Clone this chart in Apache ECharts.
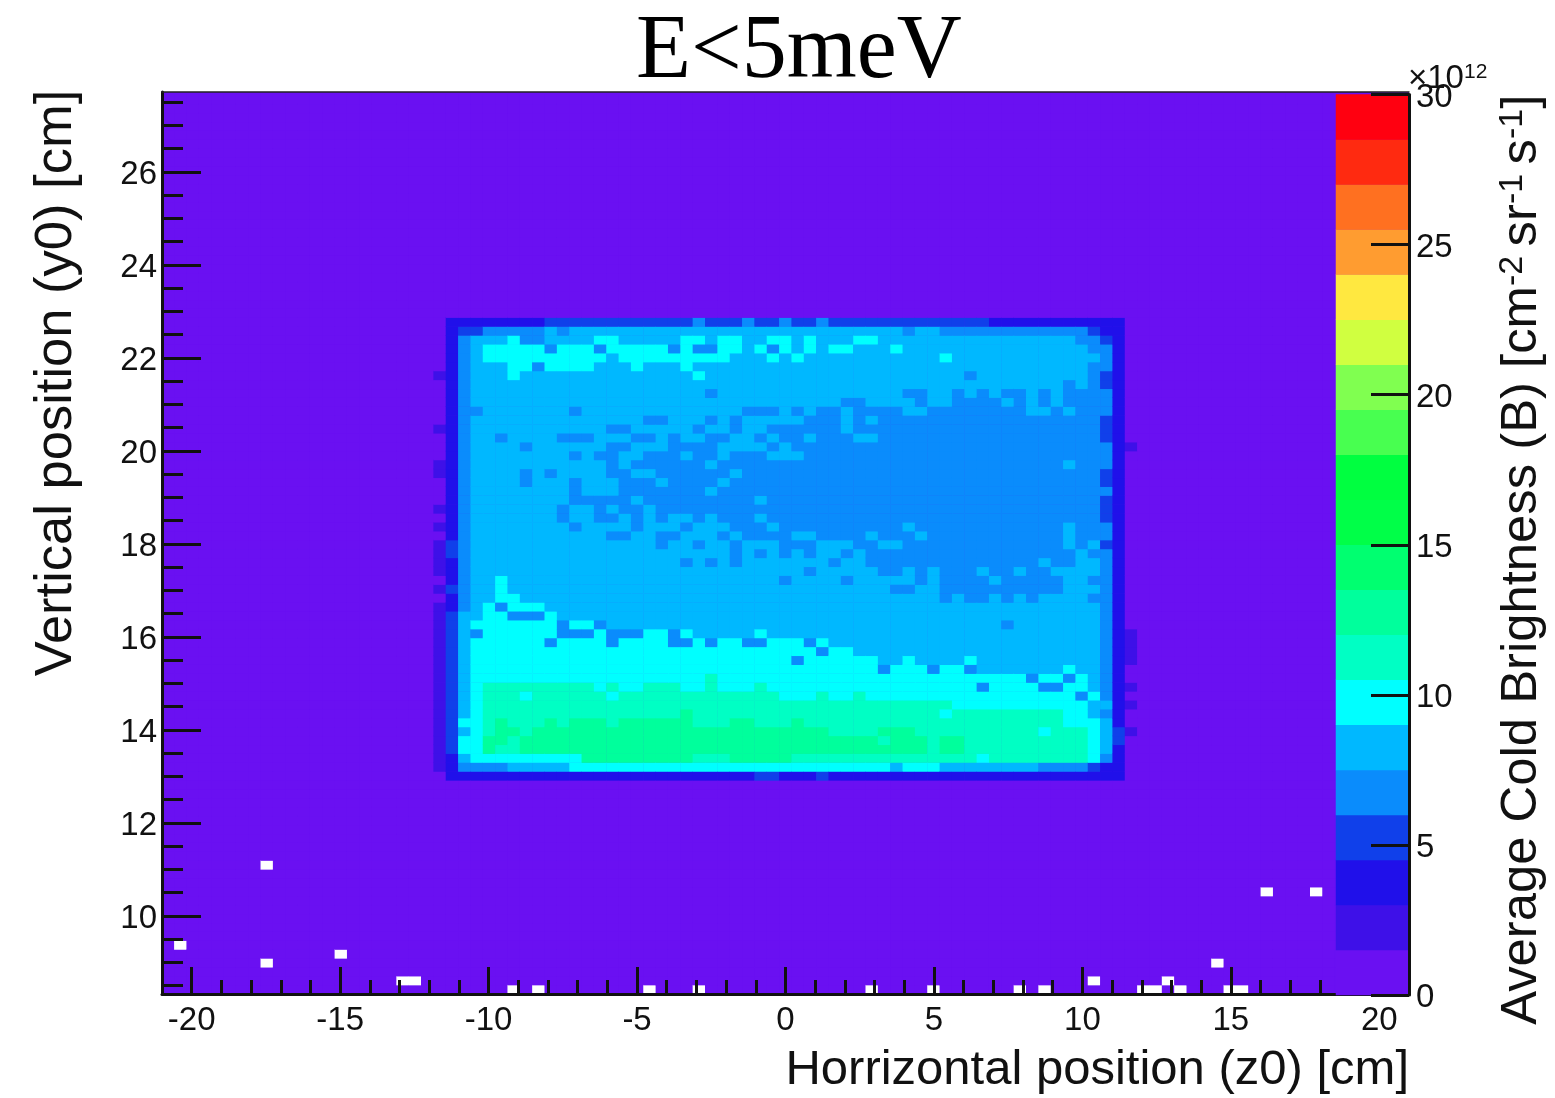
<!DOCTYPE html>
<html><head><meta charset="utf-8">
<style>html,body{margin:0;padding:0;background:#fff}#c{width:1555px;height:1098px}</style>
<script src="https://cdn.jsdelivr.net/npm/echarts@6/dist/echarts.min.js"></script>
</head><body><div id="c"></div>
<script>
// contour band index (0..19) of each bin in the lit area, top row first; spaces only group columns in tens
const litRows = [
"0222222223 3333333333 3433343343 3433333333 3333322222 2222220",
"0233444445 4555555555 5555555555 5555555545 5444444444 4443220",
"0245556445 5556655555 6656655665 6555665555 5555555555 5544320",
"0245666664 6664666664 6446656465 6566555655 5555555555 5554420",
"0245666666 6666566666 6666555656 5555555555 5655555555 5555420",
"0245556646 6665556555 6555555555 5555555555 5555555555 5554420",
"1245556555 5555555555 5655555555 5555555555 5554555555 5554320",
"0245555555 5555555555 5555555555 5555555555 5555555555 5454320",
"0245555555 5555555555 5545555555 5555555544 5545454454 5444420",
"0245555555 5555555555 5555555555 5554455554 5544445454 5444420",
"0244555555 5455555555 5555544454 5445444455 4444444455 4544420",
"0245555555 5555555445 5545455555 4445454444 4444444444 4444320",
"1245555555 5555445555 5455455444 4445444444 4444444444 4444320",
"0245545555 4445554454 5544554544 5444554444 4444444444 4444320",
"0245555455 5555445554 4445555454 4444444444 4444444444 4444421",
"0245555555 5454455444 5445444555 4444444444 4444444444 4444420",
"1245555555 5555454444 4454444444 4444444444 4444444444 4544420",
"1245555454 5555445544 4444544444 4444444444 4444444444 4444320",
"0245555455 5455544454 4445444444 4444444444 4444444444 4444320",
"0245555555 5455544444 4454444444 4444444444 4444444444 4444420",
"0245555555 5444445444 4444445444 4444444444 4444444444 4444320",
"1245555555 4554544544 4444444444 4444444444 4444444444 4444320",
"0245555555 4554454545 5454445444 4444444444 4444444444 4444320",
"1245555555 5455554555 4555444544 4444444454 4444444444 4544420",
"0245555555 5555445544 5554544445 5444454445 4444444444 4544420",
"1345555555 5555555545 5455455544 4555445544 4444444444 4545320",
"1345555555 5555555555 5555454545 4554544444 4444444444 4454420",
"1245555555 5555555555 4545455555 5545544444 4444444445 4455420",
"1245555555 5555555555 5555555555 4555554454 5444544544 5555420",
"0245565555 5555555555 5555555545 5554555554 5444454444 4554420",
"1345565555 5555555555 5555555555 5555555445 5444444444 4555420",
"0245566555 5555555555 5555555555 5555555555 5454454545 5554420",
"1245646665 5555555555 5555555555 5555555555 5555555555 5555420",
"1355664446 5555555555 5555555555 5555555555 5555555555 5555420",
"1356666666 4664555555 5555555555 5555555555 5555554555 5555420",
"1354666666 4446444664 6555556555 5555555555 5555555555 5555421",
"1356666664 6666466664 4646644666 4655555555 5555555555 5555421",
"1356666666 6666666666 6666666666 6466555555 5555555555 5555421",
"1356666666 6666666666 6666666664 6666665565 5556555555 5555421",
"1356666666 6666666666 6666666666 6666664666 4664555555 5655420",
"1356666666 6666666666 6676666666 6666666666 6666666646 6465420",
"1356777777 7776766777 6676667666 6666666666 6666466664 4665421",
"1356777677 7777677777 7777777766 6766766666 6666666666 6646420",
"1356777777 7777777777 7777777777 7777777777 7766666666 6665521",
"1356777777 7777777777 8777777777 7777777777 7677777777 7665420",
"1366787778 7888788888 8777887778 7777777777 7777777777 7666520",
"1356788788 8888888888 8888888888 8877778887 7777777776 7776531",
"1366887888 8888888888 8888888888 8888887888 7887777777 7776530",
"1366877888 8888888888 8888888888 8888888888 7887777777 7776520",
"1256666666 6688888888 8777888887 7777777777 7777677777 7776420",
"1244445555 5666666666 6666666666 6666666566 6555555554 4443220",
"0222222222 2222222222 2222223322 2322222222 2222222222 2222220"
];
// bins with no entries, [column from left, row from bottom]
const emptyBins = [[8,14],[1,5],[8,3],[14,4],[19,1],[20,1],[28,0],[30,0],[39,0],[43,0],[57,0],[62,0],[69,0],[71,0],[75,1],[79,0],[80,0],[81,1],[82,0],[85,3],[86,0],[87,0],[89,11],[93,11]];
const xMajorTicks = [-20,-15,-10,-5,0,5,10,15,20];
const xMinorTicks = [-19,-18,-17,-16,-14,-13,-12,-11,-9,-8,-7,-6,-4,-3,-2,-1,1,2,3,4,6,7,8,9,11,12,13,14,16,17,18,19];
const yMajorTicks = [10,12,14,16,18,20,22,24,26];
const yMinorTicks = [8.5,9,9.5,10.5,11,11.5,12.5,13,13.5,14.5,15,15.5,16.5,17,17.5,18.5,19,19.5,20.5,21,21.5,22.5,23,23.5,24.5,25,25.5,26.5,27,27.5];
const bandColors = ['#6a10f2','#3e10e8','#2010ea','#1040ea','#0a8cfc','#00b8ff','#00ffff','#00ffc4','#00ff9c','#00ff70','#00ff48','#00ff40','#48ff50','#80ff50','#d0ff40','#ffe840','#ff9c30','#ff7020','#ff2a10','#ff0010'];
const BINS = 101, BAND_WIDTH = 1.5, LIT_COL0 = 22, LIT_ROW0 = 75;

const bandValue = b => (b + 0.5) * BAND_WIDTH;
const cells = new Map();
litRows.forEach((row, r) => {
  row.replace(/ /g, '').split('').forEach((ch, c) => cells.set((LIT_COL0 + c) + ',' + (LIT_ROW0 - r), bandValue(+ch)));
});
emptyBins.forEach(([c, r]) => cells.set(c + ',' + r, -1));
const mapData = [];
for (let c = 0; c < BINS; c++) for (let r = 0; r < BINS; r++) {
  const k = c + ',' + r;
  mapData.push([c, r, cells.has(k) ? cells.get(k) : bandValue(0)]);
}
const barData = bandColors.map((_, k) => [0, k, bandValue(k)]);
const idx = Array.from({length: BINS}, (_, i) => i);

const FONT = 'Liberation Sans', INK = '#111';
const line = {lineStyle: {color: INK, width: 3}};
const loweredLabel = {a: {fontFamily: FONT, fontSize: 33, color: INK, padding: [6, 0, 0, 0]}};
const chart = echarts.init(document.getElementById('c'), null, {renderer: 'canvas'});
chart.setOption({
  animation: false,
  backgroundColor: '#fff',
  title: [
    {text: 'E<5meV', left: 631, top: 3, textStyle: {fontFamily: 'Liberation Serif', fontSize: 90, fontWeight: 'normal', color: '#000'}},
    {text: '×10{s|12}', left: 1403, top: 57, textStyle: {fontFamily: FONT, fontSize: 33, fontWeight: 'normal', color: INK,
      rich: {s: {fontFamily: FONT, fontSize: 21, verticalAlign: 'top', color: INK}}}}
  ],
  grid: [
    {left: 162, top: 92, width: 1247, height: 902, show: true, backgroundColor: bandColors[0], borderWidth: 0, outerBoundsMode: 'none'},
    {left: 162, top: 95.1, width: 1247, height: 898.9, outerBoundsMode: 'none'},
    {left: 1336, top: 94.5, width: 73, height: 900.5, outerBoundsMode: 'none'}
  ],
  xAxis: [
    {type: 'value', gridIndex: 0, min: -21, max: 21, z: 3, position: 'bottom', splitLine: {show: false},
      axisLine: {show: true, onZero: false, ...line},
      axisTick: {show: true, inside: true, length: 27, customValues: xMajorTicks, ...line},
      axisLabel: {show: true, customValues: xMajorTicks, fontFamily: FONT, fontSize: 33, color: INK, margin: 10},
      name: 'Horrizontal position (z0) [cm]', nameLocation: 'end', nameGap: 0, nameMoveOverlap: false,
      nameTextStyle: {fontFamily: FONT, fontSize: 49, color: INK, align: 'right', verticalAlign: 'top', padding: [52, 0, 0, 0]}},
    {type: 'value', gridIndex: 0, min: -21, max: 21, z: 3, position: 'bottom', splitLine: {show: false},
      axisLine: {show: false, onZero: false},
      axisTick: {show: true, inside: true, length: 14, customValues: xMinorTicks, ...line},
      axisLabel: {show: false}},
    {type: 'value', gridIndex: 0, min: -21, max: 21, z: 3, position: 'top', splitLine: {show: false},
      axisLine: {show: true, onZero: false, lineStyle: {color: '#222', width: 1.5}}, axisTick: {show: false}, axisLabel: {show: false}},
    {type: 'category', gridIndex: 1, show: false, data: idx},
    {type: 'category', gridIndex: 2, show: false, data: [0]}
  ],
  yAxis: [
    {type: 'value', gridIndex: 0, min: 8.32, max: 27.72, z: 3, position: 'left', splitLine: {show: false},
      axisLine: {show: true, onZero: false, ...line},
      axisTick: {show: true, inside: true, length: 39, customValues: yMajorTicks, ...line},
      axisLabel: {show: true, customValues: yMajorTicks, margin: 5, formatter: '{a|{value}}', rich: loweredLabel},
      name: 'Vertical position (y0) [cm]', nameLocation: 'middle', nameRotate: 90, nameGap: 79, nameMoveOverlap: false,
      nameTextStyle: {fontFamily: FONT, fontSize: 52.5, color: INK, padding: [0, 0, 0, 320]}},
    {type: 'value', gridIndex: 0, min: 8.32, max: 27.72, z: 3, position: 'left', splitLine: {show: false},
      axisLine: {show: false, onZero: false},
      axisTick: {show: true, inside: true, length: 21, customValues: yMinorTicks, ...line},
      axisLabel: {show: false}},
    {type: 'category', gridIndex: 1, show: false, data: idx},
    {type: 'category', gridIndex: 2, show: false, data: bandColors.map((_, k) => k)},
    {type: 'value', gridIndex: 2, min: 0, max: 30, interval: 5, z: 5, position: 'right', splitLine: {show: false},
      axisLine: {show: true, onZero: false, ...line},
      axisTick: {show: true, inside: true, length: 38, ...line},
      axisLabel: {show: true, margin: 7, formatter: '{a|{value}}', rich: loweredLabel},
      name: 'Average Cold Brightness (B) [cm{s|-2 }sr{s|-1 }s{s|-1}]', nameLocation: 'middle', nameRotate: 90, nameGap: 87, nameMoveOverlap: false,
      nameTextStyle: {fontFamily: FONT, fontSize: 50.8, color: INK, padding: [0, 30, 0, 0],
        rich: {s: {fontFamily: FONT, fontSize: 34, verticalAlign: 'top', color: INK}}}}
  ],
  visualMap: {
    type: 'piecewise', show: false, seriesIndex: [0, 1], dimension: 2,
    pieces: [{min: -2, max: 0, color: '#ffffff'}].concat(bandColors.map((color, k) => ({min: k * BAND_WIDTH, max: (k + 1) * BAND_WIDTH, color})))
  },
  series: [
    {type: 'heatmap', xAxisIndex: 3, yAxisIndex: 2, data: mapData, z: 1, progressive: 0, silent: true, itemStyle: {borderWidth: 0}},
    {type: 'heatmap', xAxisIndex: 4, yAxisIndex: 3, data: barData, z: 4, progressive: 0, silent: true, itemStyle: {borderWidth: 0}}
  ]
});
</script></body></html>
